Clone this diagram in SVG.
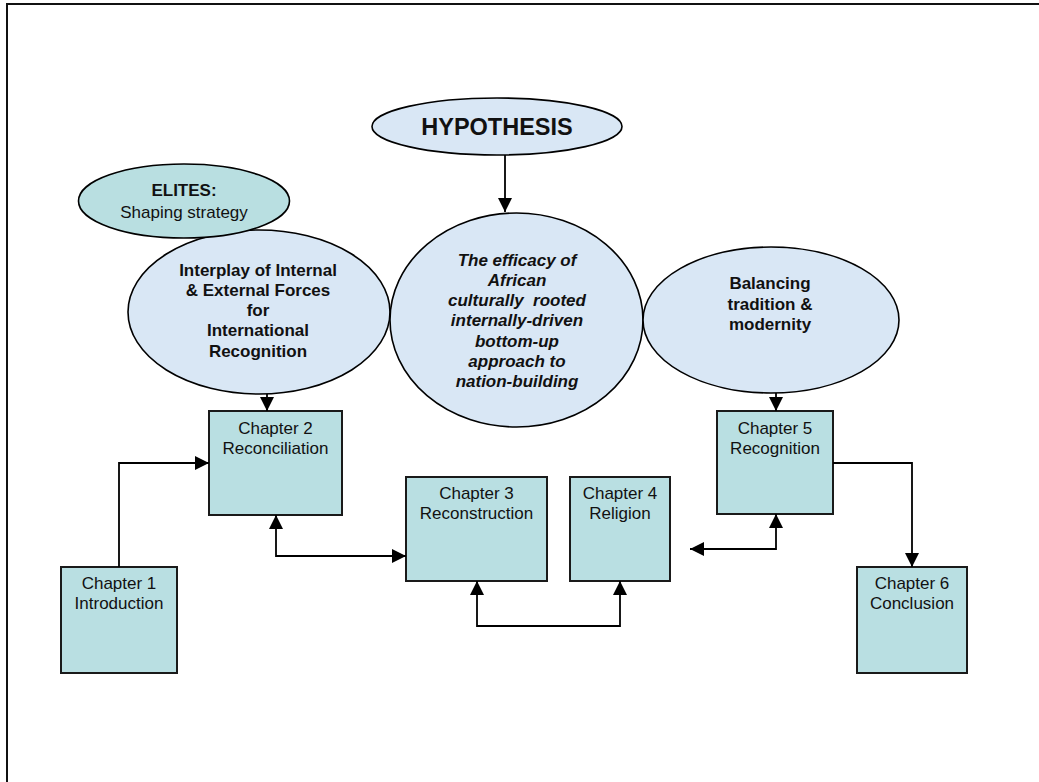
<svg xmlns="http://www.w3.org/2000/svg" width="1039" height="782" viewBox="0 0 1039 782">
<style>
.frame{stroke:#111;stroke-width:2;fill:none}
.ell{fill:#d9e7f5;stroke:#000;stroke-width:1.6}
.elite{fill:#b9dfe1;stroke:#000;stroke-width:1.6}
.box{fill:#b9dfe2;stroke:#1a1a1a;stroke-width:2}
.t{font-family:"Liberation Sans",Arial,sans-serif;fill:#111;text-anchor:middle;dominant-baseline:central}
.b{font-weight:bold;font-size:17px}
.bi{font-weight:bold;font-style:italic;font-size:17px}
.r{font-size:17px}
.con{fill:none;stroke:#000;stroke-width:1.8}
</style>
<defs>
<marker id="ah" viewBox="0 0 10 10" refX="10" refY="5" markerWidth="14" markerHeight="14" markerUnits="userSpaceOnUse" orient="auto-start-reverse">
<path d="M0,0 L10,5 L0,10 Z" fill="#000"/>
</marker>
</defs>
<rect width="1039" height="782" fill="#fff"/>
<path class="frame" d="M7,782 V4 H1039"/>

<g id="interplay">
<ellipse class="ell" cx="259" cy="312" rx="131" ry="82"/>
<text class="t b" x="258" y="270">Interplay of Internal</text>
<text class="t b" x="258" y="290">&amp; External Forces</text>
<text class="t b" x="258" y="310">for</text>
<text class="t b" x="258" y="330">International</text>
<text class="t b" x="258" y="351">Recognition</text>
</g>
<g id="elites">
<ellipse class="elite" cx="184" cy="201" rx="105.5" ry="37"/>
<text class="t b" x="184" y="190">ELITES:</text>
<text class="t r" x="184" y="212">Shaping strategy</text>
</g>
<g id="hypothesis">
<ellipse class="ell" cx="497" cy="126.5" rx="125" ry="28.5"/>
<text class="t" x="497" y="127" font-weight="bold" font-size="23.5">HYPOTHESIS</text>
</g>
<g id="efficacy">
<ellipse class="ell" cx="516.5" cy="320" rx="126.5" ry="107"/>
<text class="t bi" x="517" y="260">The efficacy of</text>
<text class="t bi" x="517" y="280">African</text>
<text class="t bi" x="517" y="300" xml:space="preserve">culturally  rooted</text>
<text class="t bi" x="517" y="320">internally-driven</text>
<text class="t bi" x="517" y="341">bottom-up</text>
<text class="t bi" x="517" y="361">approach to</text>
<text class="t bi" x="517" y="381">nation-building</text>
</g>
<g id="balancing">
<ellipse class="ell" cx="771" cy="320" rx="128" ry="73"/>
<text class="t b" x="770" y="283">Balancing</text>
<text class="t b" x="770" y="304">tradition &amp;</text>
<text class="t b" x="770" y="324">modernity</text>
</g>

<g id="ch1">
<rect class="box" x="61" y="567" width="116" height="106"/>
<text class="t r" x="119" y="583">Chapter 1</text>
<text class="t r" x="119" y="603">Introduction</text>
</g>
<g id="ch2">
<rect class="box" x="209" y="411" width="133" height="104"/>
<text class="t r" x="275.5" y="428">Chapter 2</text>
<text class="t r" x="275.5" y="448">Reconciliation</text>
</g>
<g id="ch3">
<rect class="box" x="406" y="477" width="141" height="104"/>
<text class="t r" x="476.5" y="493">Chapter 3</text>
<text class="t r" x="476.5" y="513">Reconstruction</text>
</g>
<g id="ch4">
<rect class="box" x="570" y="477" width="100" height="104"/>
<text class="t r" x="620" y="493">Chapter 4</text>
<text class="t r" x="620" y="513">Religion</text>
</g>
<g id="ch5">
<rect class="box" x="717" y="411" width="116" height="103"/>
<text class="t r" x="775" y="428">Chapter 5</text>
<text class="t r" x="775" y="448">Recognition</text>
</g>
<g id="ch6">
<rect class="box" x="857" y="567" width="110" height="106"/>
<text class="t r" x="912" y="583">Chapter 6</text>
<text class="t r" x="912" y="603">Conclusion</text>
</g>

<g id="connectors">
<path class="con" d="M505,155 V212" marker-end="url(#ah)"/>
<path class="con" d="M267,394 V411" marker-end="url(#ah)"/>
<path class="con" d="M776,393 V411" marker-end="url(#ah)"/>
<path class="con" d="M119,567 V463 H209" marker-end="url(#ah)"/>
<path class="con" d="M276,515 V556 H406" marker-start="url(#ah)" marker-end="url(#ah)"/>
<path class="con" d="M477,581 V626 H620 V581" marker-start="url(#ah)" marker-end="url(#ah)"/>
<path class="con" d="M776,514 V549 H690" marker-start="url(#ah)" marker-end="url(#ah)"/>
<path class="con" d="M833,463 H912 V567" marker-end="url(#ah)"/>
</g>
</svg>
